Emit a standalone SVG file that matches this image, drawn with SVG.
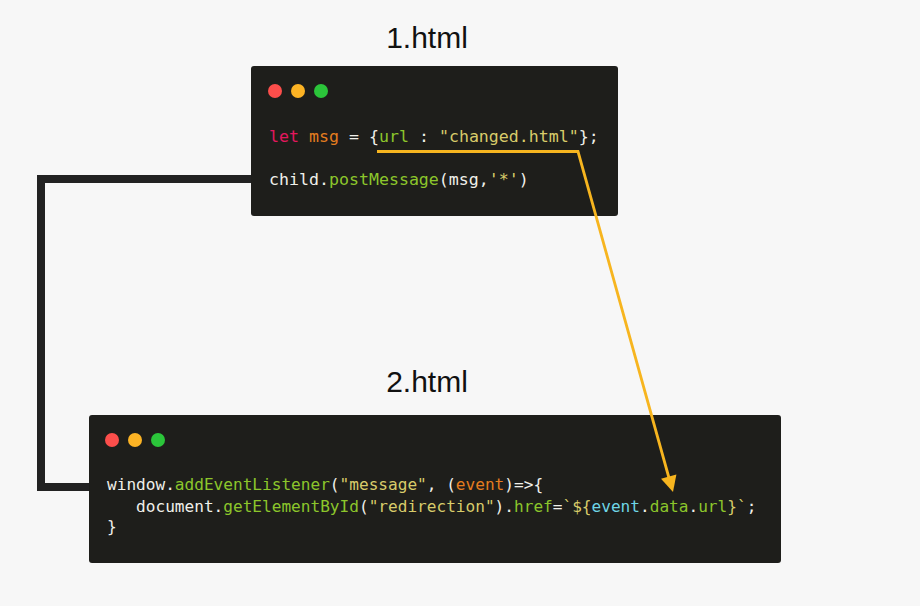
<svg xmlns="http://www.w3.org/2000/svg" width="920" height="606" viewBox="0 0 920 606">
<defs>
<style>
.win{fill:#1e1e1b;}
.code{font-family:"DejaVu Sans Mono","Liberation Mono",monospace;font-size:16.1px;fill:#f0f0ea;white-space:pre;}
.c1{font-size:16.6px;}
.title{font-family:"Liberation Sans",Arial,sans-serif;font-size:30px;fill:#111;text-anchor:middle;}
.kw{fill:#e3175e;}
.var{fill:#e47d1f;}
.fn{fill:#8cc62b;}
.str{fill:#d8cc6a;}
.cy{fill:#6fd6e6;}
.r{fill:#fc4e4b;}
.y{fill:#fcb324;}
.g{fill:#2bc53a;}
.arrow{fill:none;stroke:#f7b51f;stroke-width:2.8;}
.head{fill:#f7b51f;}
</style>
</defs>
<rect width="920" height="606" fill="#f7f7f7"/>

<g id="node-1html">
<text class="title" x="427" y="48">1.html</text>
<rect class="win" x="251" y="66" width="367" height="150" rx="3"/>
<circle class="r" cx="275" cy="91" r="7"/>
<circle class="y" cx="298" cy="91" r="7"/>
<circle class="g" cx="321" cy="91" r="7"/>
<text class="code c1" x="269" y="142"><tspan class="kw">let</tspan> <tspan class="var">msg</tspan> = {<tspan class="fn">url</tspan> : <tspan class="str">"changed.html"</tspan>};</text>
<text class="code c1" x="269" y="185">child.<tspan class="fn">postMessage</tspan>(msg,<tspan class="str">'*'</tspan>)</text>
</g>

<g id="node-2html">
<text class="title" x="427" y="392">2.html</text>
<rect class="win" x="89" y="415" width="692" height="148" rx="3"/>
<circle class="r" cx="112" cy="440" r="7"/>
<circle class="y" cx="135" cy="440" r="7"/>
<circle class="g" cx="158" cy="440" r="7"/>
<text class="code" x="107" y="490">window.<tspan class="fn">addEventListener</tspan>(<tspan class="str">"message"</tspan>, (<tspan class="var">event</tspan>)=&gt;{</text>
<text class="code" x="107" y="512">   document.<tspan class="fn">getElementById</tspan>(<tspan class="str">"redirection"</tspan>).<tspan class="fn">href</tspan>=<tspan class="str">`${</tspan><tspan class="cy">event</tspan>.<tspan class="fn">data</tspan>.<tspan class="fn">url</tspan><tspan class="str">}`</tspan>;</text>
<text class="code" x="107" y="532">}</text>
</g>

<g id="connectors">
<polyline points="251,179 41,179 41,487 89,487" fill="none" stroke="#222222" stroke-width="8"/>
<polyline class="arrow" points="377,151.5 578,151.5 669,478"/>
<polygon class="head" points="673,492 661,478.7 676.4,474.5"/>
</g>
</svg>
